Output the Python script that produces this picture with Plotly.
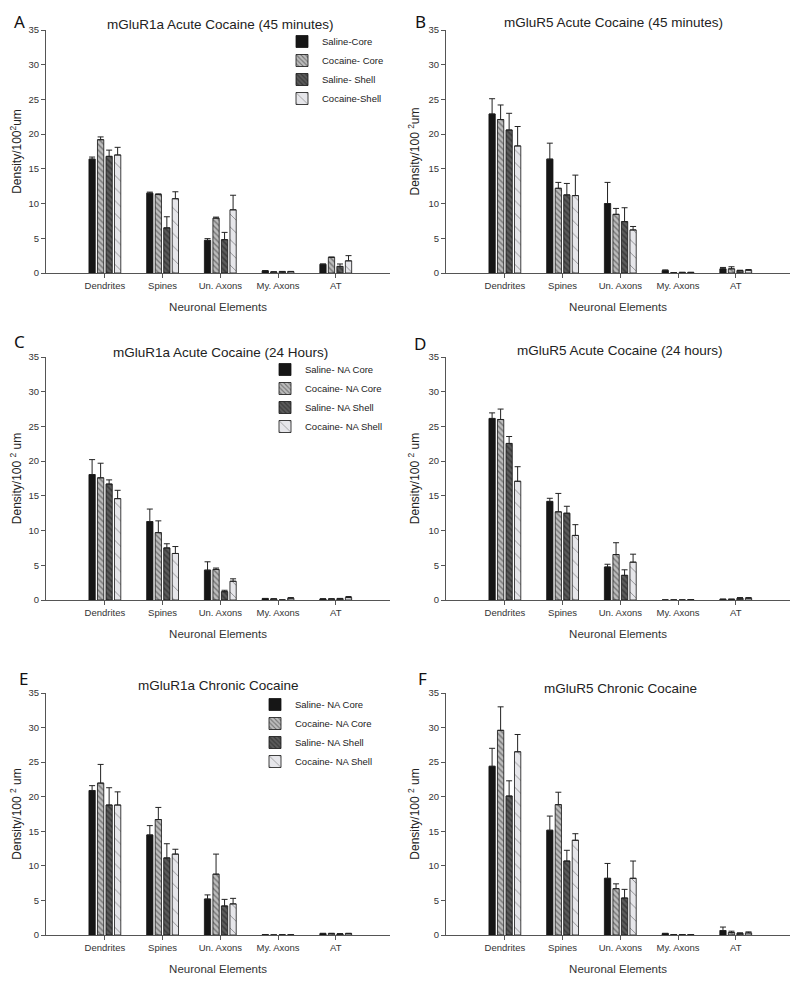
import plotly.graph_objects as go

categories = ["Dendrites", "Spines", "Un. Axons", "My. Axons", "AT"]
y_ticks = [0, 5, 10, 15, 20, 25, 30, 35]

names_short = ["Saline-Core", "Cocaine- Core", "Saline- Shell", "Cocaine-Shell"]
names_na = ["Saline- NA Core", "Cocaine- NA Core", "Saline- NA Shell", "Cocaine- NA Shell"]

# Panel A: mGluR1a Acute Cocaine (45 minutes)
A_sal_core = [16.4, 11.5, 4.7, 0.3, 1.25]
A_sal_core_err = [0.3, 0.15, 0.25, 0.05, 0.05]
A_coc_core = [19.2, 11.3, 7.9, 0.15, 2.25]
A_coc_core_err = [0.4, 0.1, 0.15, 0.02, 0.05]
A_sal_shell = [16.8, 6.5, 4.8, 0.2, 0.95]
A_sal_shell_err = [0.9, 1.6, 1.05, 0.03, 0.35]
A_coc_shell = [17.0, 10.7, 9.1, 0.2, 1.75]
A_coc_shell_err = [1.1, 1.0, 2.1, 0.03, 0.75]

# Panel B: mGluR5 Acute Cocaine (45 minutes)
B_sal_core = [22.9, 16.4, 10.0, 0.35, 0.6]
B_sal_core_err = [2.2, 2.3, 3.05, 0.1, 0.2]
B_coc_core = [22.1, 12.2, 8.45, 0.03, 0.6]
B_coc_core_err = [2.1, 0.85, 0.85, 0.01, 0.3]
B_sal_shell = [20.6, 11.25, 7.4, 0.08, 0.35]
B_sal_shell_err = [2.4, 1.65, 2.0, 0.02, 0.05]
B_coc_shell = [18.3, 11.15, 6.2, 0.08, 0.4]
B_coc_shell_err = [2.8, 2.95, 0.5, 0.02, 0.1]

# Panel C: mGluR1a Acute Cocaine (24 Hours)
C_sal_core = [18.07, 11.3, 4.3, 0.2, 0.15]
C_sal_core_err = [2.15, 1.8, 1.2, 0.03, 0.02]
C_coc_core = [17.6, 9.7, 4.4, 0.15, 0.15]
C_coc_core_err = [2.1, 1.7, 0.2, 0.03, 0.03]
C_sal_shell = [16.7, 7.5, 1.2, 0.0, 0.2]
C_sal_shell_err = [0.6, 0.6, 0.2, 0.0, 0.03]
C_coc_shell = [14.6, 6.7, 2.7, 0.25, 0.35]
C_coc_shell_err = [1.2, 1.0, 0.35, 0.1, 0.15]

# Panel D: mGluR5 Acute Cocaine (24 hours)
D_sal_core = [26.15, 14.2, 4.75, 0.0, 0.1]
D_sal_core_err = [0.8, 0.45, 0.4, 0.0, 0.02]
D_coc_core = [26.0, 12.7, 6.55, 0.0, 0.1]
D_coc_core_err = [1.5, 2.65, 1.7, 0.0, 0.02]
D_sal_shell = [22.55, 12.5, 3.55, 0.0, 0.25]
D_sal_shell_err = [1.0, 1.0, 0.8, 0.0, 0.1]
D_coc_shell = [17.1, 9.3, 5.45, 0.05, 0.25]
D_coc_shell_err = [2.1, 1.55, 1.15, 0.01, 0.1]

# Panel E: mGluR1a Chronic Cocaine
E_sal_core = [20.9, 14.47, 5.2, 0.05, 0.2]
E_sal_core_err = [0.7, 1.35, 0.6, 0.01, 0.05]
E_coc_core = [21.97, 16.7, 8.8, 0.0, 0.2]
E_coc_core_err = [2.7, 1.75, 2.9, 0.0, 0.05]
E_sal_shell = [18.8, 11.15, 4.2, 0.02, 0.15]
E_sal_shell_err = [2.5, 2.05, 0.95, 0.01, 0.05]
E_coc_shell = [18.8, 11.7, 4.5, 0.02, 0.2]
E_coc_shell_err = [1.9, 0.7, 0.8, 0.01, 0.05]

# Panel F: mGluR5 Chronic Cocaine
F_sal_core = [24.4, 15.15, 8.2, 0.2, 0.65]
F_sal_core_err = [2.6, 2.05, 2.15, 0.05, 0.5]
F_coc_core = [29.6, 18.85, 6.7, 0.05, 0.35]
F_coc_core_err = [3.4, 1.8, 0.7, 0.01, 0.2]
F_sal_shell = [20.1, 10.7, 5.35, 0.05, 0.25]
F_sal_shell_err = [2.2, 1.55, 1.25, 0.01, 0.05]
F_coc_shell = [26.5, 13.7, 8.2, 0.05, 0.3]
F_coc_shell_err = [2.5, 0.95, 2.5, 0.01, 0.15]

# The page body has an 8px default margin: shrink the figure and offset coords.
OFF = 8
W, H = 800 - OFF, 984 - OFF
FONT = "Liberation Sans, Arial, sans-serif"


def px(x):
    return (x - OFF) / W


def py(y):
    return 1 - (y - OFF) / H


styles = [
    dict(color="#161616", pattern=dict(shape="")),
    dict(color="#bdbdbd", pattern=dict(shape="\\", fgcolor="#2a2a2a", size=4, solidity=0.35)),
    dict(color="#5c5c5c", pattern=dict(shape="\\", fgcolor="#1c1c1c", size=4, solidity=0.4)),
    dict(color="#e6e6ea", pattern=dict(shape="\\", fgcolor="#333333", size=9, solidity=0.1)),
]

panels = [
    dict(key="A", title="mGluR1a Acute Cocaine (45 minutes)", ytitle="Density/100<sup>2</sup>um",
         series=[(A_sal_core, A_sal_core_err), (A_coc_core, A_coc_core_err), (A_sal_shell, A_sal_shell_err), (A_coc_shell, A_coc_shell_err)],
         names=names_short, legend="legend", col=0, row=0),
    dict(key="B", title="mGluR5 Acute Cocaine (45 minutes)", ytitle="Density/100 <sup>2</sup>um",
         series=[(B_sal_core, B_sal_core_err), (B_coc_core, B_coc_core_err), (B_sal_shell, B_sal_shell_err), (B_coc_shell, B_coc_shell_err)],
         names=names_short, legend=None, col=1, row=0),
    dict(key="C", title="mGluR1a Acute Cocaine (24 Hours)", ytitle="Density/100 <sup>2</sup> um",
         series=[(C_sal_core, C_sal_core_err), (C_coc_core, C_coc_core_err), (C_sal_shell, C_sal_shell_err), (C_coc_shell, C_coc_shell_err)],
         names=names_na, legend="legend2", col=0, row=1),
    dict(key="D", title="mGluR5 Acute Cocaine (24 hours)", ytitle="Density/100 <sup>2</sup> um",
         series=[(D_sal_core, D_sal_core_err), (D_coc_core, D_coc_core_err), (D_sal_shell, D_sal_shell_err), (D_coc_shell, D_coc_shell_err)],
         names=names_na, legend=None, col=1, row=1),
    dict(key="E", title="mGluR1a Chronic Cocaine", ytitle="Density/100 <sup>2</sup> um",
         series=[(E_sal_core, E_sal_core_err), (E_coc_core, E_coc_core_err), (E_sal_shell, E_sal_shell_err), (E_coc_shell, E_coc_shell_err)],
         names=names_na, legend="legend3", col=0, row=2),
    dict(key="F", title="mGluR5 Chronic Cocaine", ytitle="Density/100 <sup>2</sup> um",
         series=[(F_sal_core, F_sal_core_err), (F_coc_core, F_coc_core_err), (F_sal_shell, F_sal_shell_err), (F_coc_shell, F_coc_shell_err)],
         names=names_na, legend=None, col=1, row=2),
]

col_px = [(46, 390), (446, 790)]
row_px = [(30, 273), (357, 600), (693, 935)]
title_pos = {"A": (220, 24), "B": (613, 22), "C": (220, 352), "D": (620, 350), "E": (218, 685), "F": (620, 688)}
# (left x, top y) of each panel letter box
letter_pos = {"A": (12, 8), "B": (413, 8), "C": (12, 328), "D": (412, 330), "E": (17, 665), "F": (416, 665)}

fig = go.Figure()
layout = dict(
    width=W, height=H, margin=dict(l=0, r=0, t=0, b=0, autoexpand=False),
    paper_bgcolor="white", plot_bgcolor="white",
    barmode="group", bargap=0.41, bargroupgap=0.26,
    font=dict(family=FONT, color="#222222", size=10),
    annotations=[],
)

for i, p in enumerate(panels):
    n = i + 1
    xa = "x" if n == 1 else f"x{n}"
    ya = "y" if n == 1 else f"y{n}"
    for j, (vals, errs) in enumerate(p["series"]):
        st = styles[j]
        tr = go.Bar(
            x=categories, y=vals, name=p["names"][j],
            xaxis=xa, yaxis=ya,
            marker=dict(color=st["color"], pattern=st["pattern"], line=dict(color="#111111", width=0.8)),
            error_y=dict(type="data", symmetric=False, array=errs, arrayminus=[0] * len(errs),
                         color="#222222", thickness=1, width=3),
            showlegend=p["legend"] is not None,
        )
        if p["legend"] is not None:
            tr.legend = p["legend"]
        fig.add_trace(tr)
    x0, x1 = col_px[p["col"]]
    y0, y1 = row_px[p["row"]]
    layout[f"xaxis{'' if n == 1 else n}"] = dict(
        domain=[px(x0), px(x1)], anchor=ya, range=[-1.02, 4.94], automargin=False,
        showline=True, linecolor="#555555", linewidth=1,
        ticks="outside", ticklen=4, tickcolor="#555555",
        tickfont=dict(size=9.5, color="#333333"), showgrid=False, zeroline=False,
        title=dict(text="Neuronal Elements", font=dict(size=11.5, color="#333333"), standoff=12),
    )
    layout[f"yaxis{'' if n == 1 else n}"] = dict(
        domain=[py(y1), py(y0)], anchor=xa, range=[0, 35], automargin=False,
        tickvals=y_ticks, showline=True, linecolor="#555555", linewidth=1,
        ticks="outside", ticklen=4, tickcolor="#555555",
        tickfont=dict(size=9.5, color="#333333"), showgrid=False, zeroline=False,
        title=dict(text=p["ytitle"], font=dict(size=12, color="#222222"), standoff=6),
    )
    tx, ty = title_pos[p["key"]]
    layout["annotations"].append(dict(
        text=p["title"], x=px(tx), y=py(ty), xref="paper", yref="paper",
        xanchor="center", yanchor="middle", showarrow=False,
        font=dict(size=13.5, color="#222222", family=FONT)))
    lx, ly = letter_pos[p["key"]]
    layout["annotations"].append(dict(
        text=p["key"], x=px(lx), y=py(ly), xref="paper", yref="paper",
        xanchor="left", yanchor="top", showarrow=False,
        font=dict(size=17, color="#111111", family="Noto Sans, Open Sans, sans-serif")))

leg_common = dict(xanchor="left", yanchor="top", bgcolor="rgba(0,0,0,0)",
                  font=dict(size=9.5, color="#222222", family=FONT), borderwidth=0,
                  tracegroupgap=0)
layout["legend"] = dict(x=px(282), y=py(27), **leg_common)
layout["legend2"] = dict(x=px(265), y=py(355), **leg_common)
layout["legend3"] = dict(x=px(255), y=py(690), **leg_common)

fig.update_layout(**layout)
fig.write_html("out.html")
